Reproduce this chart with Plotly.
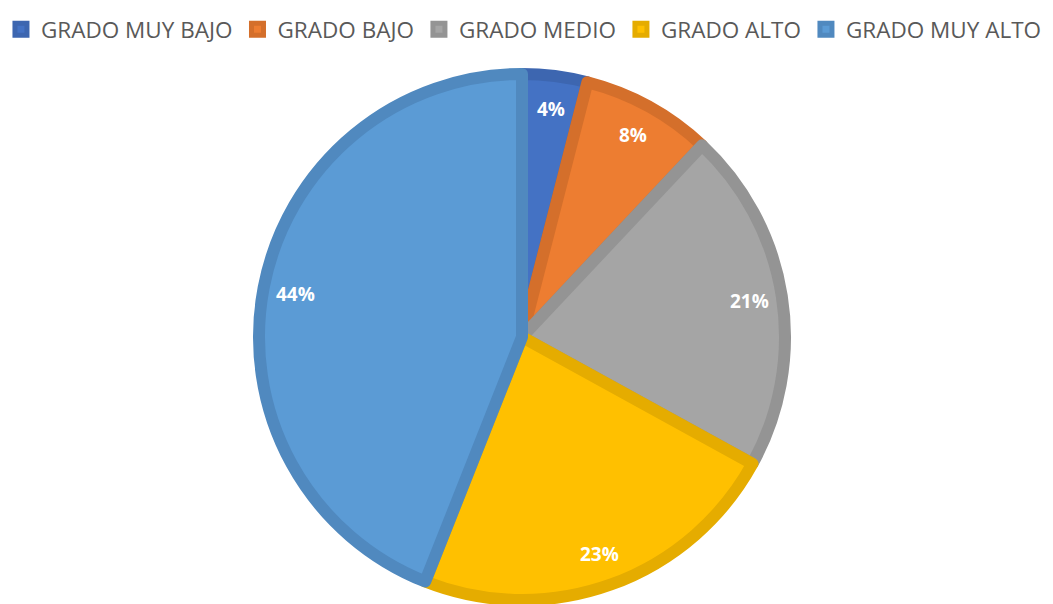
import math
import plotly.graph_objects as go

labels = ["GRADO MUY BAJO", "GRADO BAJO", "GRADO MEDIO", "GRADO ALTO", "GRADO MUY ALTO"]
values = [4, 8, 21, 23, 44]
colors = ["#4472C4", "#ED7D31", "#A5A5A5", "#FFC000", "#5B9BD5"]
border_colors = ["#3D66B0", "#D46F2B", "#949494", "#E5AC00", "#5089BF"]

W, H = 1053, 604
cx_px, cy_px, r_px = 514, 329, 263

fig = go.Figure(go.Pie(
    labels=labels,
    values=values,
    sort=False,
    direction="clockwise",
    rotation=0,
    marker=dict(colors=colors, line=dict(color=border_colors, width=12)),
    textinfo="none",
    hoverinfo="label+percent",
    domain=dict(x=[(cx_px - r_px) / W, (cx_px + r_px) / W],
                y=[1 - (cy_px + r_px) / H, 1 - (cy_px - r_px) / H]),
))

total = sum(values)
cum = 0
annotations = []
for v in values:
    mid = (cum + v / 2) / total
    cum += v
    theta = math.radians(90 - 360 * mid)
    rr = 0.875 * r_px
    x = (cx_px + rr * math.cos(theta)) / W
    y = 1 - (cy_px - rr * math.sin(theta)) / H
    annotations.append(dict(
        x=x, y=y, xref="paper", yref="paper", showarrow=False,
        xanchor="center", yanchor="middle",
        text=f"{round(100 * v / total)}%",
        font=dict(family="Open Sans", size=19, color="white", weight="bold"),
    ))

fig.update_layout(
    width=W, height=H,
    margin=dict(l=0, r=0, t=0, b=0, autoexpand=False),
    paper_bgcolor="white",
    showlegend=True,
    legend=dict(orientation="h", x=0.49, xanchor="center", y=1.0, yanchor="top",
                font=dict(family="Open Sans", size=22.5, color="#595959"),
                itemclick=False),
    annotations=annotations,
)

fig.write_html("out.html")
